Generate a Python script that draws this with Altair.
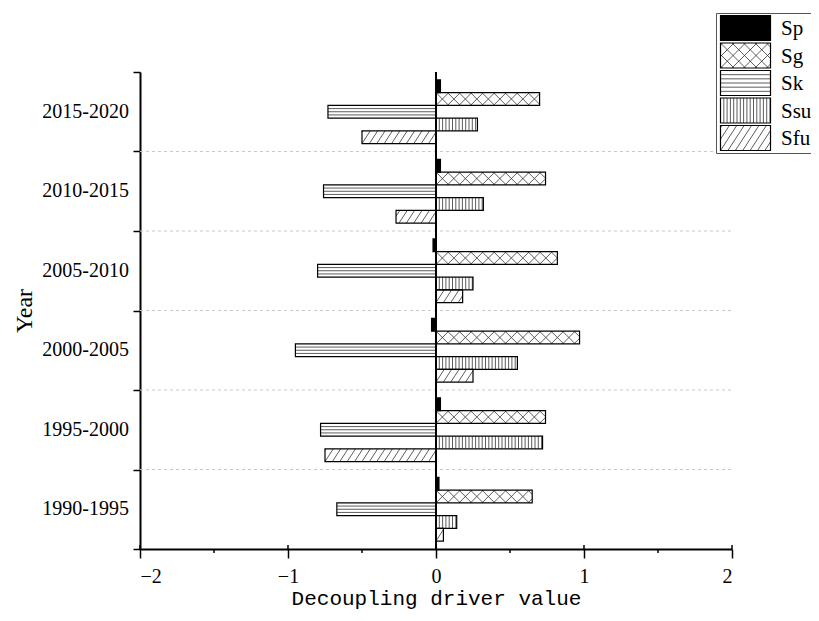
import math
import altair as alt
import pandas as pd

# ---------------- data ----------------
periods = ["1990-1995", "1995-2000", "2000-2005", "2005-2010", "2010-2015", "2015-2020"]
series = ["Sp", "Sg", "Sk", "Ssu", "Sfu"]
Sp = [0.02, 0.03, -0.03, -0.02, 0.03, 0.03]
Sg = [0.65, 0.74, 0.97, 0.82, 0.74, 0.70]
Sk = [-0.67, -0.78, -0.95, -0.80, -0.76, -0.73]
Ssu = [0.14, 0.72, 0.55, 0.25, 0.32, 0.28]
Sfu = [0.05, -0.75, 0.25, 0.18, -0.27, -0.50]
x_ticks = [-2, -1, 0, 1, 2]
x_minor = [-1.5, -0.5, 0.5, 1.5]
values = {"Sp": Sp, "Sg": Sg, "Sk": Sk, "Ssu": Ssu, "Sfu": Sfu}

# ---------------- layout ----------------
PAD_L, PAD_T, PAD_R, PAD_B = 132, 64, 79, 64
W, H = 592, 477
OX, OY = 8 + PAD_L, 8 + PAD_T          # page pixel of plot origin
XMIN, XMAX, NG = -2, 2, len(periods)
PXX = W / (XMAX - XMIN)
PXY = H / NG
BAR_H = 0.16
GPAD = 0.1


def xpx(v):
    return OX + (v - XMIN) * PXX


def ypx(v):
    return OY + H - v * PXY


def xd(px):
    return XMIN + (px - OX) / PXX


def yd(py):
    return (OY + H - py) / PXY


def hatch(kind, l, r, t, b, anchor):
    """Return list of pixel segments (x1, y1, x2, y2) of hatch inside box."""
    segs = []
    h = b - t
    if r - l < 0.5:
        return segs
    if kind == "Sk":
        n = max(1, int(h / 4.2))
        for i in range(1, n + 1):
            y = t + h * i / (n + 1)
            segs.append((l, y, r, y))
    elif kind == "Ssu":
        s = 3.3
        k0 = math.floor((l - anchor) / s)
        k1 = math.ceil((r - anchor) / s)
        for k in range(k0, k1 + 1):
            x = anchor + k * s
            if l + 0.3 < x < r - 0.3:
                segs.append((x, t, x, b))
    elif kind in ("Sfu", "Sg"):
        if kind == "Sfu":
            d, s, dirs = h * 0.65, 7.4, [1]
        else:
            d, s, dirs = h, 11.5, [1, -1]
        k0 = math.floor((l - d - anchor) / s) - 1
        k1 = math.ceil((r - anchor) / s) + 1
        for dr in dirs:
            for k in range(k0, k1 + 1):
                x0 = anchor + k * s
                t0 = max(0.0, (l - x0) / d)
                t1 = min(1.0, (r - x0) / d)
                if t1 - t0 > 1e-3:
                    if dr == 1:   # '/' : bottom-left to top-right
                        segs.append((x0 + d * t0, b - h * t0, x0 + d * t1, b - h * t1))
                    else:         # '\' : top-left to bottom-right
                        segs.append((x0 + d * t0, t + h * t0, x0 + d * t1, t + h * t1))
    return segs


# bars
bar_rows, hatch_rows = [], []
for g, p in enumerate(periods):
    for j, s in enumerate(series):
        v = values[s][g]
        ytop = g + 1 - GPAD - BAR_H * j
        ybot = ytop - BAR_H
        bar_rows.append({"period": p, "series": s, "x0": 0.0, "x1": v,
                         "ytop": ytop, "ybot": ybot,
                         "fill": "black" if s == "Sp" else "white"})
        if s != "Sp":
            l, r = xpx(min(0, v)), xpx(max(0, v))
            t, b = ypx(ytop), ypx(ybot)
            for (a1, b1, a2, b2) in hatch(s, l, r, t, b, xpx(0)):
                hatch_rows.append({"x": xd(a1), "y": yd(b1), "x2": xd(a2), "y2": yd(b2)})
bars = pd.DataFrame(bar_rows)

# legend (placed in page pixels, converted through the same scales)
LEG_BOX = (716.5, 13.5, 840, 153.5)
SW_L, SW_W, SW_H = 720.5, 50, 25
SW_TOPS = [15.5, 43, 70.5, 98, 125.5]
TXT_X = 781
leg_rows, leg_text = [], []
for s, tp in zip(series, SW_TOPS):
    leg_rows.append({"x0": xd(SW_L), "x1": xd(SW_L + SW_W), "ytop": yd(tp), "ybot": yd(tp + SW_H),
                     "fill": "black" if s == "Sp" else "white"})
    leg_text.append({"x": xd(TXT_X), "y": yd(tp + SW_H / 2 + 1), "label": s})
    if s != "Sp":
        for (a1, b1, a2, b2) in hatch(s, SW_L, SW_L + SW_W, tp, tp + SW_H, SW_L):
            hatch_rows.append({"x": xd(a1), "y": yd(b1), "x2": xd(a2), "y2": yd(b2)})
legend_sw = pd.DataFrame(leg_rows)
legend_tx = pd.DataFrame(leg_text)
legend_box = pd.DataFrame([{"x0": xd(LEG_BOX[0]), "x1": xd(LEG_BOX[2]),
                            "ytop": yd(LEG_BOX[1]), "ybot": yd(LEG_BOX[3])}])
hatches = pd.DataFrame(hatch_rows)

grid = pd.DataFrame({"y": list(range(1, NG))})
labels = pd.DataFrame({"yc": [g + 0.5 for g in range(NG)], "label": periods})
minor = pd.DataFrame({"x": x_minor})
major = pd.DataFrame({"x": x_ticks})

xs = alt.Scale(domain=[XMIN, XMAX], nice=False, zero=False)
ys = alt.Scale(domain=[0, NG], nice=False, zero=False)

SERIF = "Liberation Serif"
MONO = "Liberation Mono"
XT = "Decoupling driver value"

X_AXIS = alt.Axis(values=x_ticks, format="d", tickSize=9, tickWidth=1.5, labelFont=SERIF,
                  labelFontSize=20, labelPadding=8, grid=False,
                  title=XT, titleFont=MONO, titleFontSize=21,
                  titleFontWeight="normal", titlePadding=1)
Y_AXIS = alt.Axis(values=list(range(NG + 1)), labels=False, tickSize=7, tickWidth=1.5,
                  grid=False, title="Year", titleFont=SERIF, titleFontSize=24,
                  titleFontWeight="normal", titlePadding=96)

base_bars = alt.Chart(bars).mark_rect(strokeWidth=0).encode(
    x=alt.X("x0:Q", scale=xs, axis=X_AXIS, title=XT),
    x2="x1:Q",
    y=alt.Y("ytop:Q", scale=ys, axis=Y_AXIS, title="Year"),
    y2="ybot:Q",
    fill=alt.Fill("fill:N", scale=None),
)

gridlines = alt.Chart(grid).mark_rule(color="#c8c8c8", strokeDash=[3, 3], strokeWidth=1).encode(
    y=alt.Y("y:Q", scale=ys, title="Year"), x=alt.value(0), x2=alt.value(W))

hatch_layer = alt.Chart(hatches).mark_rule(color="#333333", strokeWidth=0.8).encode(
    x=alt.X("x:Q", scale=xs, title=XT), x2="x2:Q",
    y=alt.Y("y:Q", scale=ys, title="Year"), y2="y2:Q")

outlines = alt.Chart(bars).mark_rect(fillOpacity=0, stroke="black", strokeWidth=1.2).encode(
    x=alt.X("x0:Q", scale=xs, title=XT), x2="x1:Q",
    y=alt.Y("ytop:Q", scale=ys, title="Year"), y2="ybot:Q")

zero_line = alt.Chart(grid).mark_rule(color="black", strokeWidth=2).encode(x=alt.datum(0))

minor_ticks = alt.Chart(minor).mark_rule(color="black", strokeWidth=1.5).encode(
    x=alt.X("x:Q", scale=xs, title=XT), y=alt.value(H), y2=alt.value(H + 4))

major_up = alt.Chart(major).mark_rule(color="black", strokeWidth=1.5).encode(
    x=alt.X("x:Q", scale=xs, title=XT), y=alt.value(H - 4), y2=alt.value(H))

group_labels = alt.Chart(labels).mark_text(align="right", baseline="middle", font=SERIF,
                                           fontSize=20, color="black").encode(
    x=alt.value(-11), y=alt.Y("yc:Q", scale=ys, title="Year"), text="label:N")

leg_box = alt.Chart(legend_box).mark_rect(fill="white", stroke="#555555", strokeWidth=1).encode(
    x=alt.X("x0:Q", scale=xs, title=XT), x2="x1:Q",
    y=alt.Y("ytop:Q", scale=ys, title="Year"), y2="ybot:Q")

leg_fill = alt.Chart(legend_sw).mark_rect(strokeWidth=0).encode(
    x=alt.X("x0:Q", scale=xs, title=XT), x2="x1:Q",
    y=alt.Y("ytop:Q", scale=ys, title="Year"), y2="ybot:Q",
    fill=alt.Fill("fill:N", scale=None))

leg_out = alt.Chart(legend_sw).mark_rect(fillOpacity=0, stroke="black", strokeWidth=1.2).encode(
    x=alt.X("x0:Q", scale=xs, title=XT), x2="x1:Q",
    y=alt.Y("ytop:Q", scale=ys, title="Year"), y2="ybot:Q")

leg_txt = alt.Chart(legend_tx).mark_text(align="left", baseline="middle", font=SERIF,
                                         fontSize=21, color="black").encode(
    x=alt.X("x:Q", scale=xs, title=XT),
    y=alt.Y("y:Q", scale=ys, title="Year"), text="label:N")

chart = alt.layer(
    base_bars, gridlines, hatch_layer.transform_filter("datum.x <= 1.9"), outlines,
    zero_line, minor_ticks, major_up, group_labels,
    leg_box, leg_fill, hatch_layer.transform_filter("datum.x > 1.9"), leg_out, leg_txt,
).properties(
    width=W, height=H,
    autosize=alt.AutoSizeParams(type="none"),
    padding={"left": PAD_L, "top": PAD_T, "right": PAD_R, "bottom": PAD_B},
    background="white",
).configure_view(stroke=None).configure_axis(
    domainColor="black", domainWidth=2, tickColor="black", labelColor="black", titleColor="black"
)

chart.save("out.html", embed_options={"renderer": "svg", "actions": False})
